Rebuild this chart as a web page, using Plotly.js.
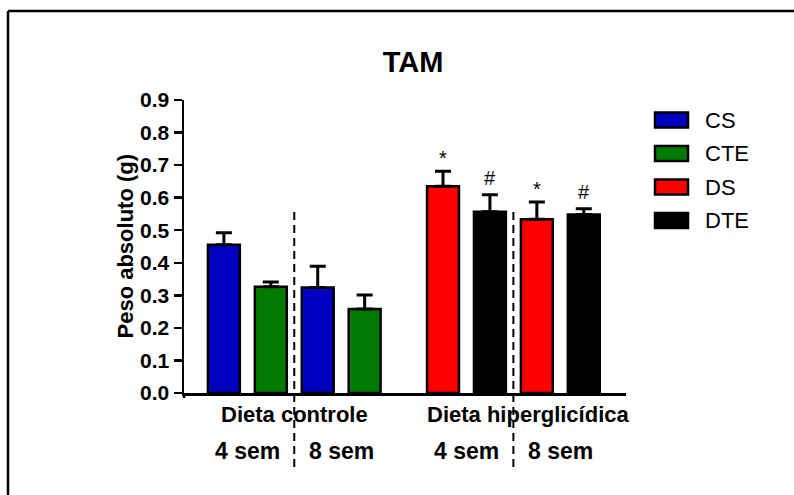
<!DOCTYPE html>
<html>
<head>
<meta charset="utf-8">
<script src="https://cdn.plot.ly/plotly-3.0.1.min.js"></script>
<style>
  html, body { margin: 0; padding: 0; background: #fff; }
  #chart { width: 794px; height: 495px; }
</style>
</head>
<body>
<div id="chart"></div>
<script>
// Absolute TAM weight (g), mean and SEM, at 4 and 8 weeks
const periods = ['4 sem', '8 sem'];
const diets = ['Dieta controle', 'Dieta hiperglicídica'];
const seriesNames = ['CS', 'CTE', 'DS', 'DTE'];

const csMean  = [0.455, 0.324];
const csErr   = [0.037, 0.065];
const cteMean = [0.326, 0.258];
const cteErr  = [0.015, 0.043];
const dsMean  = [0.635, 0.534];
const dsErr   = [0.046, 0.053];
const dteMean = [0.557, 0.548];
const dteErr  = [0.052, 0.018];

const csMarks  = ['', ''];
const cteMarks = ['', ''];
const dsMarks  = ['*', '*'];
const dteMarks = ['#', '#'];

const yTicks = [0, 0.1, 0.2, 0.3, 0.4, 0.5, 0.6, 0.7, 0.8, 0.9];

// ---- layout geometry ----
const W = 794, H = 495;
const M = { l: 184, r: 168, t: 100, b: 102 };
const xRange = [0.15, 9.57];
const yRange = [0, 0.9];
const groupStart = [1, 5.67];   // first bar slot of each diet group
const barWidth = 0.68;

const FONT = 'Liberation Sans, Arial, Helvetica, sans-serif';
const colors = { CS: '#0000c0', CTE: '#007a00', DS: '#ff0000', DTE: '#000000' };

// pixel -> paper helpers for the decorative frame and free text
const pw = W - M.l - M.r, ph = H - M.t - M.b;
const px = v => (v - M.l) / pw;
const py = v => (H - M.b - v) / ph;
const xToPaper = x => (x - xRange[0]) / (xRange[1] - xRange[0]);

const series = [
  { name: 'CS',  g: 0, s: 0, mean: csMean,  err: csErr,  marks: csMarks },
  { name: 'CTE', g: 0, s: 1, mean: cteMean, err: cteErr, marks: cteMarks },
  { name: 'DS',  g: 1, s: 0, mean: dsMean,  err: dsErr,  marks: dsMarks },
  { name: 'DTE', g: 1, s: 1, mean: dteMean, err: dteErr, marks: dteMarks }
];
const xPos = (g, p, s) => groupStart[g] + 2 * p + s;

const traces = series.map(sr => ({
  type: 'bar',
  name: sr.name,
  x: periods.map((_, p) => xPos(sr.g, p, sr.s)),
  y: sr.mean,
  width: barWidth,
  marker: { color: colors[sr.name], line: { color: '#000', width: 2.5 } },
  error_y: {
    type: 'data', symmetric: false,
    array: sr.err, arrayminus: sr.err.map(() => 0),
    color: '#000', thickness: 3, width: 8
  },
  showlegend: false,
  hoverinfo: 'skip'
}));

const annotations = [];
const shapes = [];

// significance marks above the error bars
series.forEach(sr => {
  sr.marks.forEach((m, p) => {
    if (!m) return;
    annotations.push({
      xref: 'x', yref: 'y',
      x: xPos(sr.g, p, sr.s), y: sr.mean[p] + sr.err[p],
      text: m, showarrow: false, yanchor: 'bottom', yshift: m === '*' ? 0 : 4,
      font: { family: FONT, size: 20, color: '#000' }
    });
  });
});

// diet group labels and period labels under the axis
diets.forEach((d, g) => {
  const mid = groupStart[g] + 1.5;
  annotations.push({
    xref: 'x', yref: 'paper', x: mid, y: py(414), xshift: g === 1 ? 15 : 0,
    text: d, showarrow: false, xanchor: 'center', yanchor: 'middle',
    font: { family: FONT, size: 22, weight: 'bold', color: '#000' }
  });
  periods.forEach((per, p) => {
    annotations.push({
      xref: 'x', yref: 'paper', x: groupStart[g] + 2 * p + 0.5, y: py(451),
      text: per, showarrow: false, xanchor: 'center', yanchor: 'middle',
      font: { family: FONT, size: 23, weight: 'bold', color: '#000' }
    });
  });
  // dashed separator between the 4 and 8 week bars of each diet
  const sep = xToPaper(groupStart[g] + 1.5);
  shapes.push({
    type: 'line', xref: 'paper', yref: 'paper',
    x0: sep, x1: sep, y0: py(212), y1: py(472),
    line: { color: '#000', width: 2, dash: '8px,5px' }
  });
});

// y-axis title
annotations.push({
  xref: 'paper', yref: 'paper', x: px(125), y: 0.5,
  text: 'Peso absoluto (g)', textangle: -90, showarrow: false,
  xanchor: 'center', yanchor: 'middle',
  font: { family: FONT, size: 22, weight: 'bold', color: '#000' }
});

// legend: outlined swatches with labels
seriesNames.forEach((n, i) => {
  const cy = 120 + i * 33.5;
  shapes.push({
    type: 'rect', xref: 'paper', yref: 'paper',
    x0: px(655), x1: px(688), y0: py(cy - 7.5), y1: py(cy + 7.5),
    fillcolor: colors[n], line: { color: '#000', width: 2.5 }
  });
  annotations.push({
    xref: 'paper', yref: 'paper', x: px(703), y: py(cy),
    text: n, showarrow: false, xanchor: 'left', yanchor: 'middle',
    font: { family: FONT, size: 22, color: '#000' }
  });
});

// y axis runs a little below zero
shapes.push({
  type: 'line', xref: 'paper', yref: 'paper',
  x0: 0, x1: 0, y0: 0, y1: py(H - M.b + 5),
  line: { color: '#000', width: 2.5 }
});

// outer frame (top and left edges)
shapes.push({
  type: 'line', xref: 'paper', yref: 'paper',
  x0: px(8), x1: px(800), y0: py(11), y1: py(11),
  line: { color: '#000', width: 2.5 }
});
shapes.push({
  type: 'line', xref: 'paper', yref: 'paper',
  x0: px(8), x1: px(8), y0: py(11), y1: py(500),
  line: { color: '#000', width: 2.5 }
});

const layout = {
  width: W, height: H,
  margin: M,
  paper_bgcolor: '#fff', plot_bgcolor: '#fff',
  barmode: 'overlay',
  showlegend: false,
  title: {
    text: 'TAM', xref: 'container', yref: 'container',
    x: 413 / W, y: 1 - 62 / H, xanchor: 'center', yanchor: 'middle',
    font: { family: FONT, size: 29, weight: 'bold', color: '#000' }
  },
  xaxis: {
    range: xRange, showgrid: false, zeroline: false,
    showline: true, linecolor: '#000', linewidth: 2.5,
    ticks: '', showticklabels: false, fixedrange: true
  },
  yaxis: {
    range: yRange, showgrid: false, zeroline: false,
    showline: true, linecolor: '#000', linewidth: 2.5,
    tickmode: 'array', tickvals: yTicks, tickformat: '.1f',
    ticks: 'outside', ticklen: 8, tickwidth: 2.5, tickcolor: '#000',
    tickfont: { family: FONT, size: 21, weight: 'bold', color: '#000' },
    fixedrange: true
  },
  annotations: annotations,
  shapes: shapes
};

Plotly.newPlot('chart', traces, layout, { displayModeBar: false, staticPlot: true });
</script>
</body>
</html>
